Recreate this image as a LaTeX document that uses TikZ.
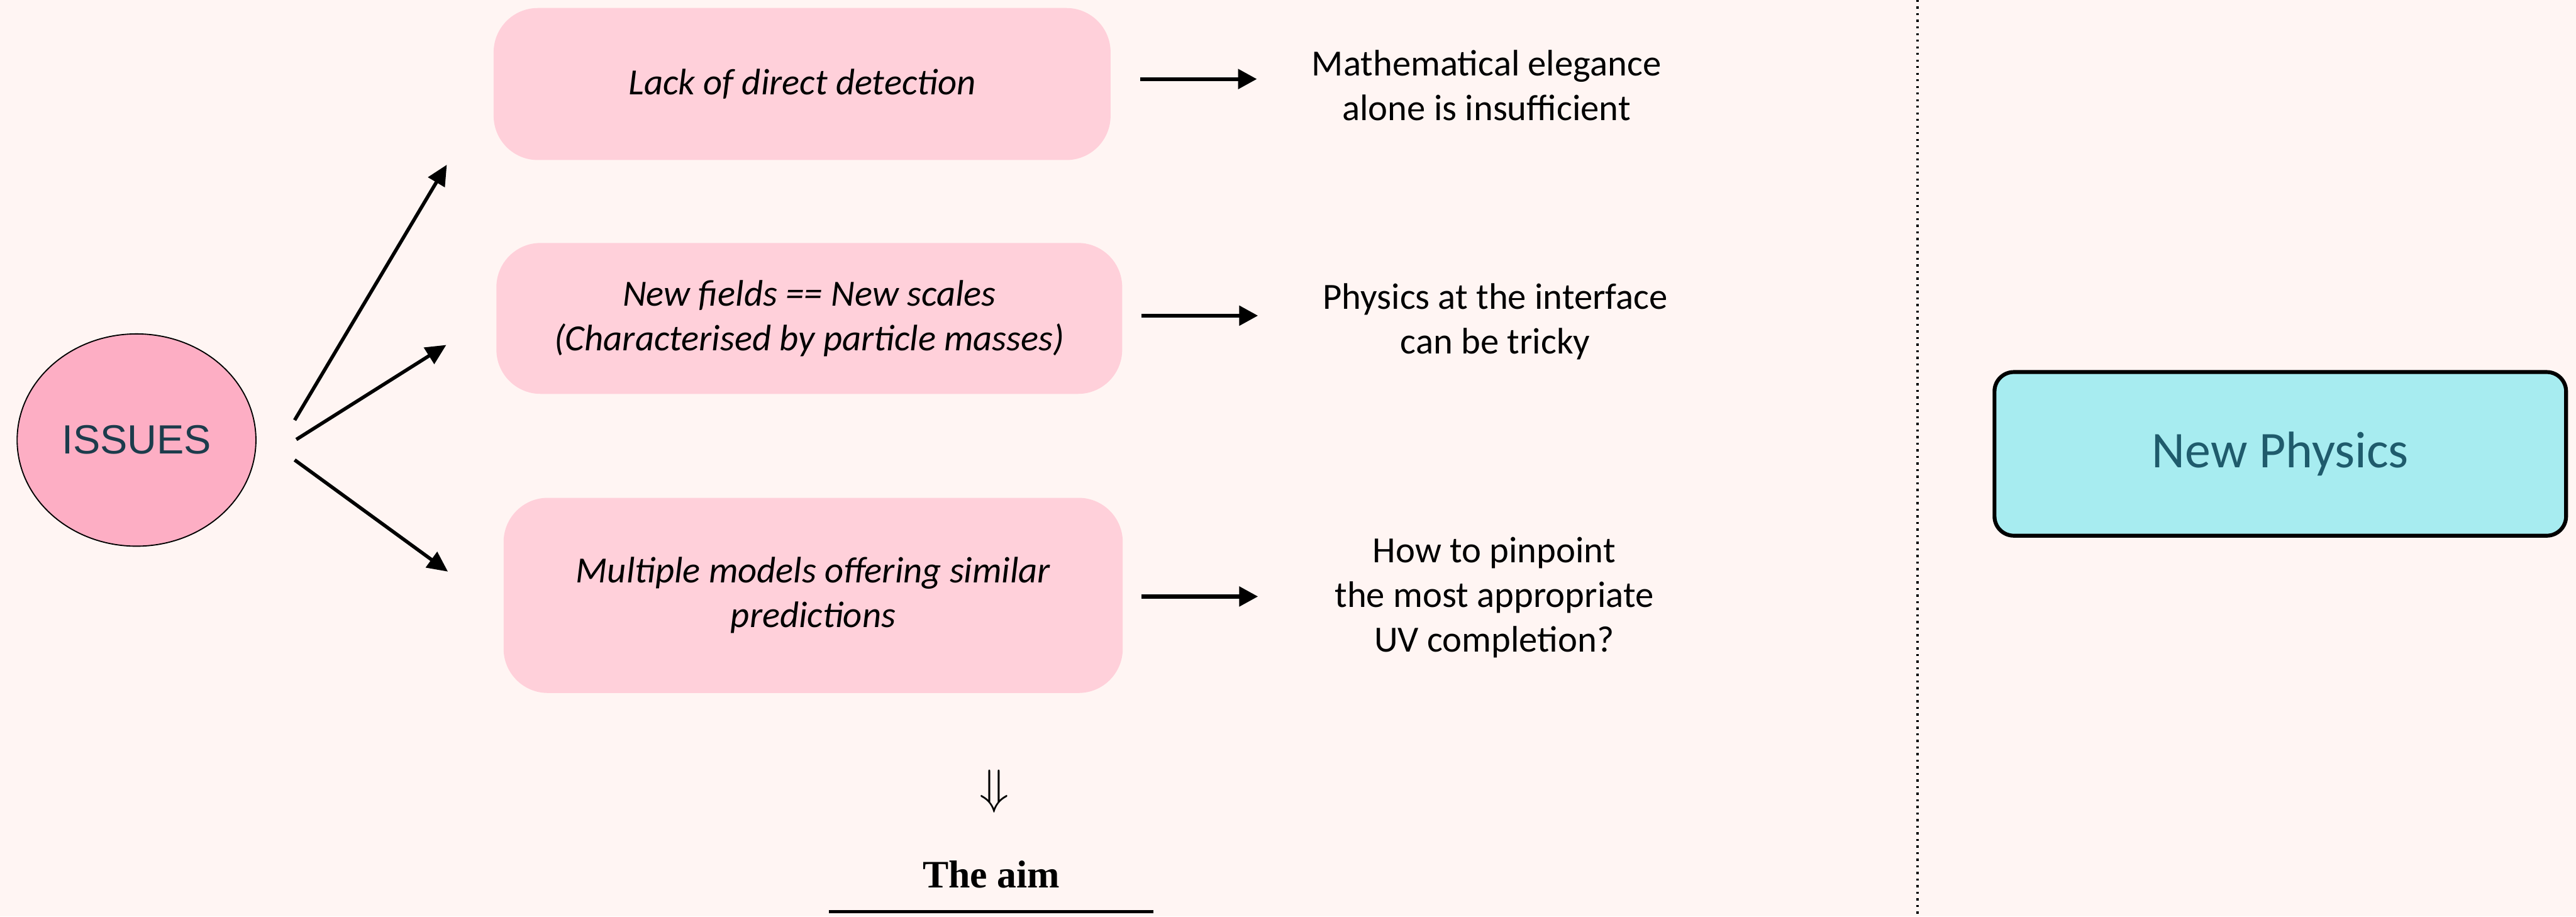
\documentclass[tikz,border=0pt]{standalone}
\usepackage{fontspec}
\setmainfont{Carlito}
\newfontfamily\issuefont{Liberation Sans}
\newfontfamily\aimfont{Liberation Serif}
\usetikzlibrary{arrows.meta,shapes.geometric}
\definecolor{pagepink}{HTML}{FFF5F3}
\definecolor{boxpink}{HTML}{FFD0DA}
\definecolor{issuepink}{HTML}{FDAEC4}
\definecolor{issueteal}{HTML}{1C3C4C}
\definecolor{npcyan}{HTML}{A7ECF0}
\definecolor{npteal}{HTML}{1F5B6C}

\begin{document}
\begin{tikzpicture}[
  issuebox/.style={fill=boxpink, rounded corners=0.8cm, align=center,
    font=\fontsize{19}{23}\selectfont\itshape},
  remark/.style={align=center, font=\fontsize{19}{23}\selectfont},
  bigarrow/.style={-{Triangle[length=0.37cm,width=0.34cm]}, line width=1.8pt},
  smallarrow/.style={-{Triangle[length=0.34cm,width=0.35cm]}, line width=2pt}
]
\fill[pagepink] (0,0) rectangle (46.6,-16.58);
\useasboundingbox (0,0) rectangle (46.6,-16.58);

% the issues
\node[draw, ellipse, line width=0.6pt, fill=issuepink, inner sep=0pt,
  minimum width=4.32cm, minimum height=3.84cm, text=issueteal,
  font=\issuefont\fontsize{21}{25}\selectfont] (issues) at (2.47,-7.96) {ISSUES};

\node[issuebox, minimum width=11.16cm, minimum height=2.75cm] (lack) at (14.51,-1.52)
  {Lack of direct detection};
\node[issuebox, minimum width=11.32cm, minimum height=2.73cm] (fields) at (14.64,-5.76)
  {New fields == New scales\\(Characterised by particle masses)};
\node[issuebox, minimum width=11.2cm, minimum height=3.53cm] (models) at (14.71,-10.77)
  {Multiple models offering similar\\predictions};

\draw[bigarrow] ([shift={(0.69,0.36)}]issues.east) -- ([shift={(-0.84,-1.46)}]lack.west);
\draw[bigarrow] ([shift={(0.72,0.01)}]issues.east) -- ([shift={(-0.90,-0.48)}]fields.west);
\draw[bigarrow] ([shift={(0.69,-0.36)}]issues.east) -- ([shift={(-1.00,0.43)}]models.west);

% what follows from them
\node[remark] (elegance) at (26.89,-1.55) {Mathematical elegance\\alone is insufficient};
\node[remark] (interface) at (27.05,-5.82) {Physics at the interface\\can be tricky};
\node[remark] (pinpoint) at (27.03,-10.81) {How to pinpoint\\the most appropriate\\UV completion?};

\draw[smallarrow] ([shift={(0.53,0.09)}]lack.east) -- ++(2.11,0);
\draw[smallarrow] ([shift={(0.34,0.05)}]fields.east) -- ++(2.11,0);
\draw[smallarrow] ([shift={(0.33,-0.02)}]models.east) -- ++(2.11,0);

% the aim
\node[font=\fontsize{24.88}{28}\selectfont] (down) at (17.99,-14.32) {$\Downarrow$};
\node[font=\aimfont\bfseries\fontsize{20}{24}\selectfont] (aim) at (17.93,-15.82) {The aim};
\draw[line width=1.4pt] (15.0,-16.49) -- (20.86,-16.49);

% right panel
\draw[line width=1.1pt, dash pattern=on 1.1pt off 2.3pt] (34.69,0) -- (34.69,-16.58);
\node[draw, line width=2pt, fill=npcyan, rounded corners=0.35cm,
  minimum width=10.34cm, minimum height=2.96cm, text=npteal,
  font=\fontsize{26.5}{30}\selectfont] (newphys) at (41.25,-8.21) {New Physics};
\end{tikzpicture}
\end{document}
